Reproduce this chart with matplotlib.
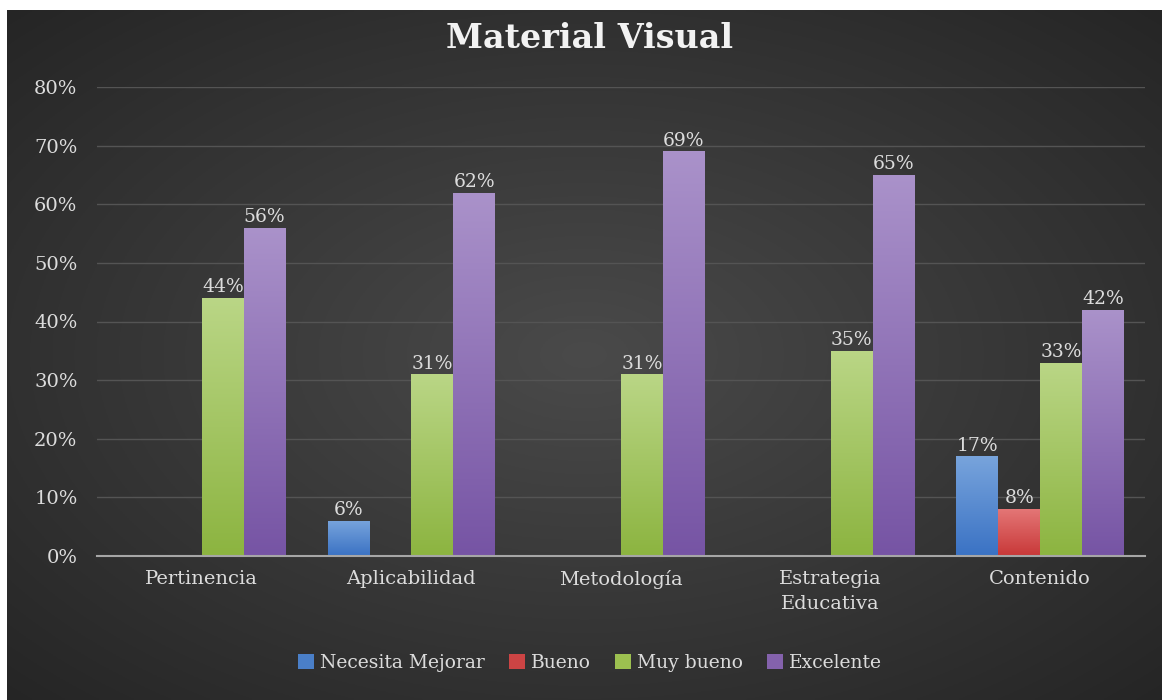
import numpy as np
import matplotlib
matplotlib.use("Agg")
import matplotlib.pyplot as plt
from matplotlib.patches import Patch
from matplotlib.colors import LinearSegmentedColormap, to_rgb

categories = ["Pertinencia", "Aplicabilidad", "Metodología", "Estrategia\nEducativa", "Contenido"]
series_names = ["Necesita Mejorar", "Bueno", "Muy bueno", "Excelente"]
necesita = [0, 6, 0, 0, 17]
bueno = [0, 0, 0, 0, 8]
muy_bueno = [44, 31, 31, 35, 33]
excelente = [56, 62, 69, 65, 42]
yticks = [0, 10, 20, 30, 40, 50, 60, 70, 80]
title = "Material Visual"

series = [necesita, bueno, muy_bueno, excelente]
base_colors = ["#4a7fc8", "#cc4444", "#9cc050", "#8462ac"]
top_colors = ["#78a4dc", "#e47676", "#bad686", "#aa92ca"]
bot_colors = ["#3a72c4", "#c83838", "#8cb440", "#7654a4"]

FONT = "DejaVu Serif"
TXT = "#dcdcdc"

W, H = 1162, 700
fig = plt.figure(figsize=(W / 100, H / 100), dpi=100, facecolor="white")

# background with radial gradient
bg = fig.add_axes([7 / W, 0, 1 - 7 / W, 1 - 10 / H])
bg.set_axis_off()
yy, xx = np.mgrid[0:1:300j, 0:1:500j]
r = np.sqrt(((xx - 0.5) / 0.75) ** 2 + ((yy - 0.5) / 0.75) ** 2)
r = np.clip(r, 0, 1)
c_in = np.array(to_rgb("#4a4a4a"))
c_out = np.array(to_rgb("#232323"))
img = c_in[None, None, :] * (1 - r[..., None]) + c_out[None, None, :] * r[..., None]
bg.imshow(img, extent=[0, 1, 0, 1], aspect="auto", origin="lower")
bg.set_xlim(0, 1)
bg.set_ylim(0, 1)

ax = fig.add_axes([97 / W, 1 - 556 / H, (1145 - 97) / W, (556 - 87) / H])
ax.set_facecolor("none")

x = np.arange(len(categories))
bw = 0.2
offsets = [-1.5 * bw, -0.5 * bw, 0.5 * bw, 1.5 * bw]

grad = np.linspace(0, 1, 256).reshape(-1, 1)
for i, (vals, name) in enumerate(zip(series, series_names)):
    bars = ax.bar(x + offsets[i], vals, width=bw, color=base_colors[i], zorder=3, linewidth=0)
    cmap = LinearSegmentedColormap.from_list("g%d" % i, [bot_colors[i], top_colors[i]])
    for b, v in zip(bars, vals):
        if v <= 0:
            continue
        x0, y0 = b.get_x(), b.get_y()
        im = ax.imshow(grad, extent=[x0, x0 + b.get_width(), y0, y0 + b.get_height()],
                       origin="lower", cmap=cmap, aspect="auto", zorder=4)
        im.set_clip_path(b)
        ax.text(x0 + b.get_width() / 2, v + 0.3, "%d%%" % v, ha="center", va="bottom",
                color=TXT, fontsize=13.5, family=FONT, zorder=5)

ax.set_xlim(-0.5, len(categories) - 0.5)
ax.set_ylim(0, 80)
ax.set_aspect("auto")

ax.set_yticks(yticks)
ax.set_yticklabels(["%d%%" % t for t in yticks], family=FONT, fontsize=14, color=TXT)
ax.set_xticks(x)
ax.set_xticklabels(categories, family=FONT, fontsize=14, color=TXT, linespacing=1.5)
ax.tick_params(axis="both", length=0)
ax.tick_params(axis="y", pad=14)
ax.tick_params(axis="x", pad=10)
ax.yaxis.grid(True, color="#545454", linewidth=1, zorder=0)
ax.set_axisbelow(True)
for s in ["left", "right", "top"]:
    ax.spines[s].set_visible(False)
ax.spines["bottom"].set_color("#a6a6a6")
ax.spines["bottom"].set_linewidth(1.5)
ax.spines["bottom"].set_zorder(6)

fig.text(590 / W, 1 - 38 / H, title, ha="center", va="center", family=FONT,
         fontsize=24, fontweight="bold", color="#f2f2f2")

handles = [Patch(facecolor=c, edgecolor="none") for c in base_colors]
leg = fig.legend(handles, series_names, loc="center", bbox_to_anchor=(590 / W, 1 - 663 / H),
                 ncol=4, frameon=False, handlelength=0.85, handleheight=0.85,
                 handletextpad=0.3, columnspacing=1.3,
                 prop={"family": FONT, "size": 13.5})
for t in leg.get_texts():
    t.set_color(TXT)

fig.savefig("out.png", dpi=100, facecolor="white")
